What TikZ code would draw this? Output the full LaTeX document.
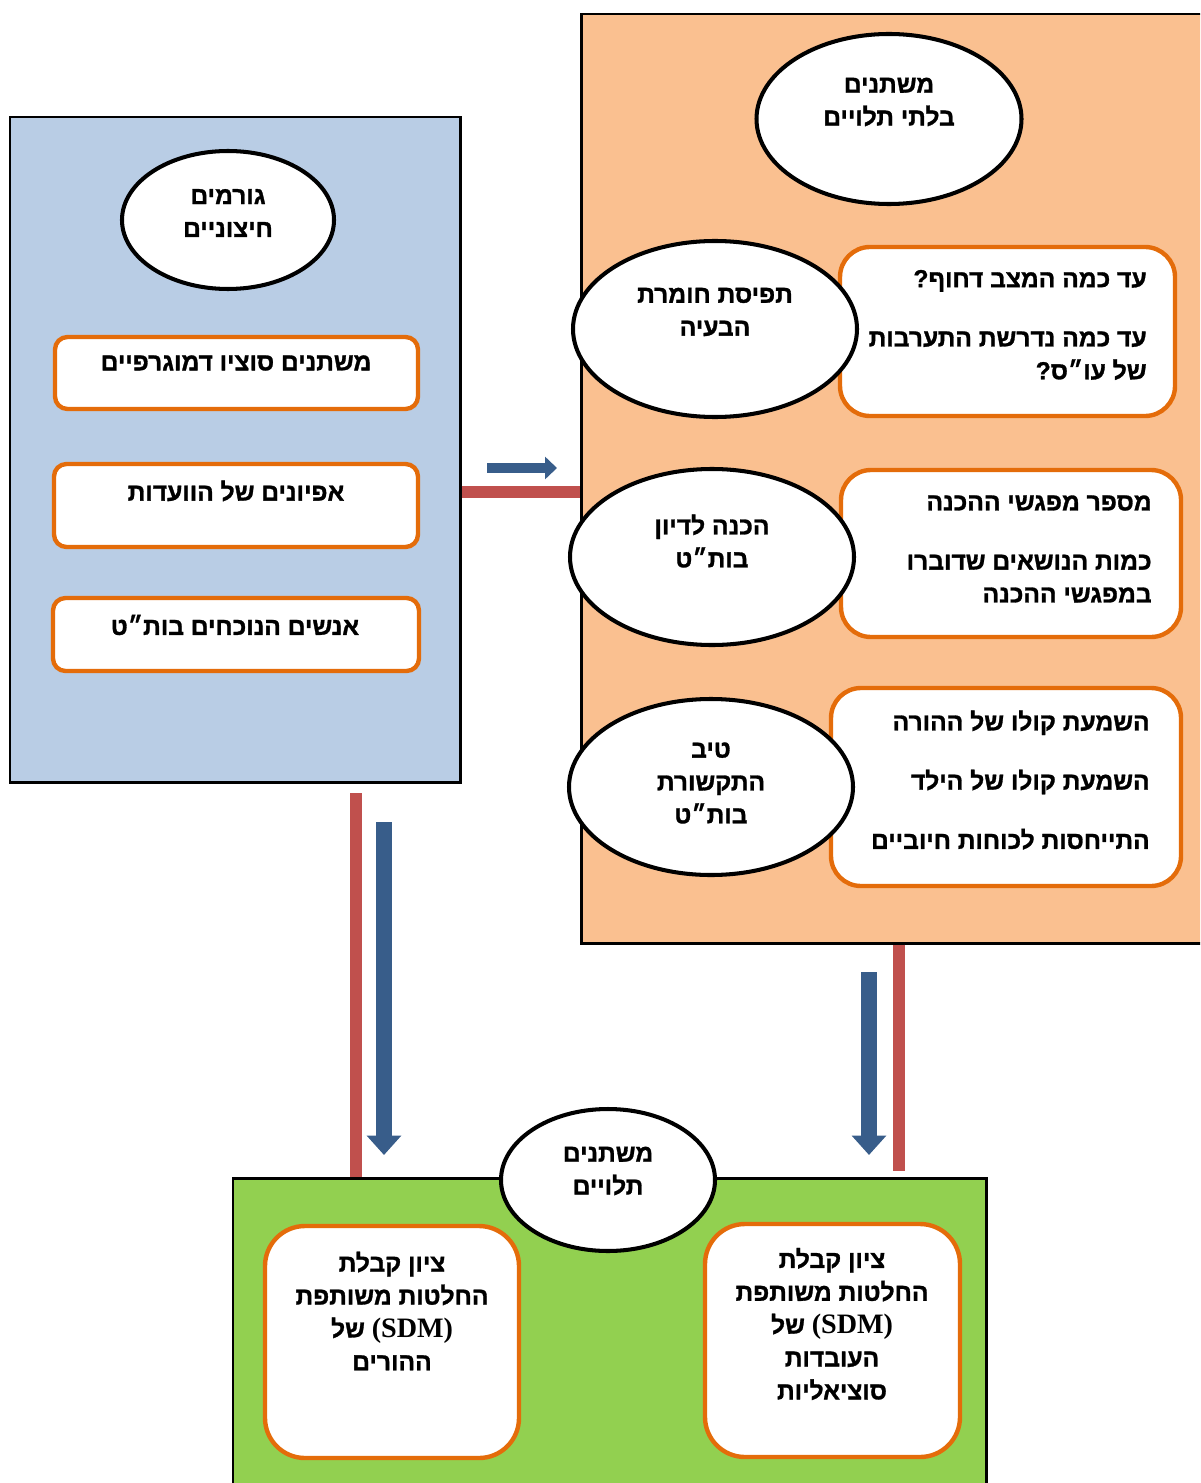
\documentclass[tikz,border=0pt]{standalone}
\usepackage{fontspec}
\newfontfamily\hebfont[Script=Hebrew,BoldFeatures={FakeBold=1.2}]{Liberation Sans}
\newfontfamily\latfont{Liberation Serif}
\TeXXeTstate=1
\usetikzlibrary{arrows.meta,positioning,shapes.geometric,fit}
\definecolor{extfill}{HTML}{B9CDE5}
\definecolor{indfill}{HTML}{FAC090}
\definecolor{depfill}{HTML}{92D050}
\definecolor{framec}{HTML}{E46C0A}
\definecolor{barred}{HTML}{C0504D}
\definecolor{barblue}{HTML}{385D8A}
\newcommand\pxu{0.02cm}
\newcommand\heb[1]{\beginR #1\endR}
\newcommand\sdm{\beginL{\latfont\fontsize{16pt}{18.7pt}\selectfont(SDM)}\endL{}}
\tikzset{
  every node/.style={font=\hebfont\bfseries\fontsize{14pt}{18.7pt}\selectfont},
  panel/.style={draw=black,line width=1.7pt,inner sep=0pt},
  oval/.style={ellipse,draw=black,fill=white,line width=2.3pt,inner sep=0pt},
  itembox/.style={draw=framec,fill=white,line width=2.5pt,inner sep=0pt},
  ovaltext/.style={align=center,inner sep=0pt},
  itemtext/.style={align=right,inner sep=0pt,anchor=east},
  redbar/.style={draw=barred,line width=6.8pt},
  bluearrow/.style={draw=barblue,line width=5.7pt,-{Triangle[length=6.8pt,width=12.5pt]}},
  bluearrowv/.style={draw=barblue,line width=9pt,-{Triangle[length=11pt,width=19pt]}}}

\begin{document}
\begin{tikzpicture}[x=0.02cm,y=-0.02cm]
\clip (0,0) rectangle (1200,1483);
% three panels
\node[panel,fill=extfill,fit={(10,117) (460,782)}] (ext) {};
\node[panel,fill=indfill,fit={(581,14) (1215,943)}] (indep) {};
\node[panel,fill=depfill,fit={(233,1178) (986,1495)}] (dep) {};

% external factors
\node[oval,minimum width=212*\pxu,minimum height=138*\pxu] (extO) at (228,220) {};
\node[ovaltext] (extT) at (228,213) {\heb{גורמים}\\\heb{חיצוניים}};
\node[itembox,rounded corners=0.25cm,fit={(55,337) (418,409)}] (e1) {};
\node[itembox,rounded corners=0.25cm,fit={(54,464) (418,547)}] (e2) {};
\node[itembox,rounded corners=0.25cm,fit={(53,598) (419,671)}] (e3) {};
\node (e1T) at (236,363) {\heb{משתנים סוציו דמוגרפיים}};
\node (e2T) at (236,491) {\heb{אפיונים של הוועדות}};
\node (e3T) at (235,625) {\heb{אנשים הנוכחים בות״ט}};

% independent variables
\node[oval,minimum width=265*\pxu,minimum height=170*\pxu] (indO) at (889,119) {};
\node[ovaltext] (indT) at (889,102) {\heb{משתנים}\\\heb{בלתי תלויים}};
\node[itembox,rounded corners=0.6cm,fit={(840,247) (1175,416)}] (q1) {};
\node[itembox,rounded corners=0.6cm,fit={(841,470) (1181,637)}] (q2) {};
\node[itembox,rounded corners=0.6cm,fit={(831,688) (1181,886)}] (q3) {};
\node[oval,minimum width=284*\pxu,minimum height=176*\pxu] (sevO) at (715,329) {};
\node[oval,minimum width=284*\pxu,minimum height=176*\pxu] (prepO) at (712,557) {};
\node[oval,minimum width=284*\pxu,minimum height=176*\pxu] (qualO) at (711,787) {};
\node[ovaltext] (sevT) at (715,312) {\heb{תפיסת חומרת}\\\heb{הבעיה}};
\node[ovaltext] (prepT) at (712,541) {\heb{הכנה לדיון}\\\heb{בות״ט}};
\node[ovaltext] (qualT) at (711,783) {\heb{טיב}\\\heb{התקשורת}\\\heb{בות״ט}};
\node[itemtext] (q1T) at (1147,325) {\heb{עד כמה המצב דחוף?}\\[15pt]\heb{עד כמה נדרשת התערבות}\\\heb{של עו״ס?}};
\node[itemtext] (q2T) at (1152,549) {\heb{מספר מפגשי ההכנה}\\[15pt]\heb{כמות הנושאים שדוברו}\\\heb{במפגשי ההכנה}};
\node[itemtext] (q3T) at (1150,780) {\heb{השמעת קולו של ההורה}\\[15pt]\heb{השמעת קולו של הילד}\\[15pt]\heb{התייחסות לכוחות חיוביים}};

% dependent variables
\node[oval,minimum width=214*\pxu,minimum height=142*\pxu] (depO) at (608,1180) {};
\node[ovaltext] (depT) at (608,1171) {\heb{משתנים}\\\heb{תלויים}};
\node[itembox,rounded corners=0.8cm,fit={(265,1226) (519,1458)}] (d1) {};
\node[itembox,rounded corners=0.8cm,fit={(705,1224) (960,1457)}] (d2) {};
\node[ovaltext] (d1T) at (392,1311) {\heb{ציון קבלת}\\\heb{החלטות משותפת}\\\heb{\sdm{} של}\\\heb{ההורים}};
\node[ovaltext] (d2T) at (832,1324) {\heb{ציון קבלת}\\\heb{החלטות משותפת}\\\heb{\sdm{} של}\\\heb{העובדות}\\\heb{סוציאליות}};

% links
\draw[redbar] (ext.east |- 0,492) -- (indep.west |- 0,492);
\coordinate (hA) at (487,468); \coordinate (hB) at (557,468);
\draw[bluearrow] (hA) -- (hB);
\coordinate (lr) at (356,793);
\draw[redbar] (lr) -- (lr |- dep.north);
\coordinate (lb) at (384,822); \coordinate (lbEnd) at (384,1155);
\draw[bluearrowv] (lb) -- (lbEnd);
\coordinate (rr) at (899,1171);
\draw[redbar] (indep.south -| rr) -- (rr);
\coordinate (rb) at (869,972); \coordinate (rbEnd) at (869,1155);
\draw[bluearrowv] (rb) -- (rbEnd);
\end{tikzpicture}
\end{document}
